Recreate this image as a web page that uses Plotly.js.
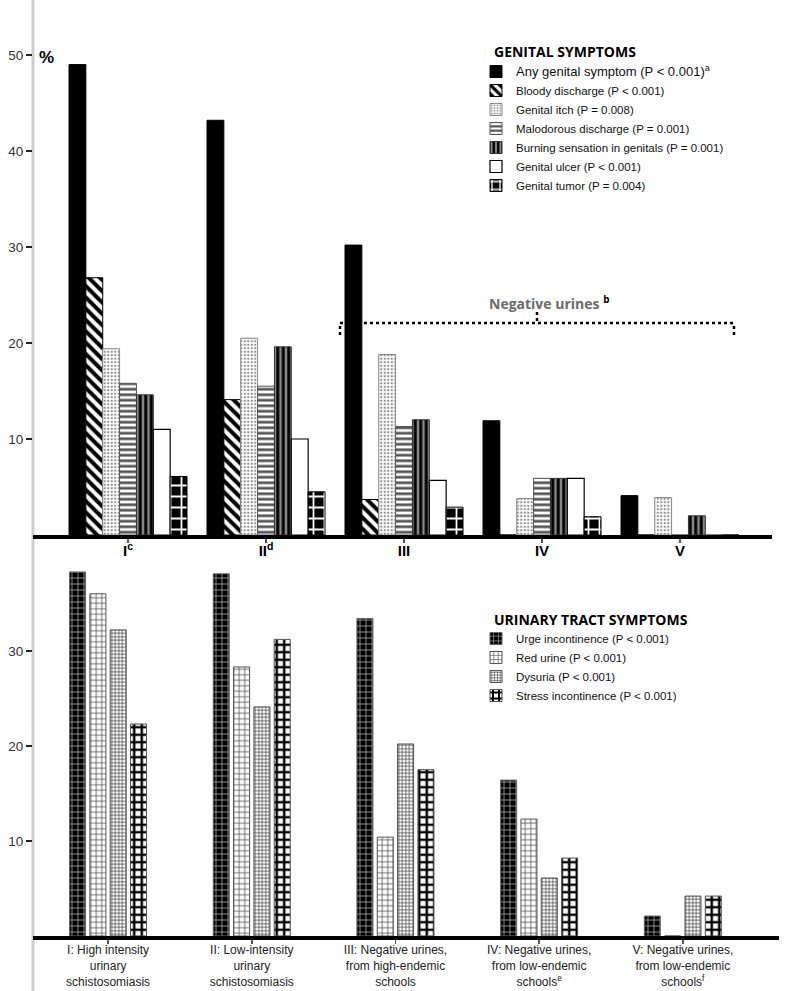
<!DOCTYPE html>
<html>
<head>
<meta charset="utf-8">
<script src="https://cdn.plot.ly/plotly-3.0.1.min.js"></script>
<style>
  html, body { margin: 0; padding: 0; background: #fff; }
  #chart { width: 787px; height: 991px; }
</style>
</head>
<body>
<div id="chart"></div>
<script>
// ---------------- DATA ----------------
const groupCodes = ['I', 'II', 'III', 'IV', 'V'];
const topTickLabels = ['I<sup>c</sup>', 'II<sup>d</sup>', 'III', 'IV', 'V'];
const bottomTickLabels = [
  'I: High intensity<br>urinary<br>schistosomiasis',
  'II: Low-intensity<br>urinary<br>schistosomiasis',
  'III: Negative urines,<br>from high-endemic<br>schools',
  'IV: Negative urines,<br>from low-endemic<br>schools<sup>e</sup>',
  'V: Negative urines,<br>from low-endemic<br>schools<sup>f</sup>'
];

const genitalNames = [
  '<span style="font-size:13px">Any genital symptom (P &lt; 0.001)<sup>a</sup></span>',
  'Bloody discharge (P &lt; 0.001)',
  'Genital itch (P = 0.008)',
  'Malodorous discharge (P = 0.001)',
  'Burning sensation in genitals (P = 0.001)',
  'Genital ulcer (P &lt; 0.001)',
  'Genital tumor (P = 0.004)'
];
const anyGenital      = [49.0, 43.2, 30.2, 11.9, 4.1];
const bloodyDischarge = [26.8, 14.1, 3.7, 0, 0];
const genitalItch     = [19.4, 20.5, 18.8, 3.8, 3.9];
const malodorous      = [15.8, 15.5, 11.3, 5.9, 0];
const burning         = [14.6, 19.6, 12.0, 5.9, 2.0];
const genitalUlcer    = [11.0, 10.0, 5.7, 5.9, 0];
const genitalTumor    = [6.1, 4.5, 2.9, 1.9, 0];

const urinaryNames = [
  'Urge incontinence (P &lt; 0.001)',
  'Red urine (P &lt; 0.001)',
  'Dysuria (P &lt; 0.001)',
  'Stress incontinence (P &lt; 0.001)'
];
const urgeIncontinence   = [38.3, 38.1, 33.4, 16.4, 2.1];
const redUrine           = [36.0, 28.3, 10.4, 12.3, 0];
const dysuria            = [32.2, 24.1, 20.2, 6.1, 4.2];
const stressIncontinence = [22.3, 31.2, 17.5, 8.2, 4.2];

const topYTicks = [10, 20, 30, 40, 50];
const bottomYTicks = [10, 20, 30];

// ---------------- STYLES ----------------
const W = 787, H = 991;
const PX = x => x / W;
const PY = y => 1 - y / H;
const FONT = 'Liberation Sans, Arial, sans-serif';

const genitalSeries = [anyGenital, bloodyDischarge, genitalItch, malodorous, burning, genitalUlcer, genitalTumor];
const genitalMarkers = [
  { color: '#000', line: { color: '#000', width: 1 } },
  { color: '#000', line: { color: '#000', width: 1 },
    pattern: { shape: '\\', fgcolor: '#000', bgcolor: '#fff', size: 8, solidity: 0.5 } },
  { color: '#fff', line: { color: '#8a8a8a', width: 1 },
    pattern: { shape: '.', fgcolor: '#8f8f8f', bgcolor: '#fff', size: 3.5, solidity: 0.35 } },
  { color: '#fff', line: { color: '#555', width: 1 },
    pattern: { shape: '-', fgcolor: '#555', bgcolor: '#fff', size: 5.5, solidity: 0.5 } },
  { color: '#000', line: { color: '#333', width: 1 },
    pattern: { shape: '|', fgcolor: '#000', bgcolor: '#8a8a8a', size: 5.5, solidity: 0.55 } },
  { color: '#fff', line: { color: '#000', width: 1.2 } },
  { color: '#000', line: { color: '#000', width: 1 },
    pattern: { shape: '+', fgcolor: '#fff', bgcolor: '#000', size: 11, solidity: 0.3 } }
];

const urinarySeries = [urgeIncontinence, redUrine, dysuria, stressIncontinence];
const urinaryMarkers = [
  { color: '#000', line: { color: '#666', width: 1 },
    pattern: { shape: '+', fgcolor: '#bdbdbd', bgcolor: '#000', size: 6, solidity: 0.22 } },
  { color: '#fff', line: { color: '#555', width: 1 },
    pattern: { shape: '+', fgcolor: '#444', bgcolor: '#fff', size: 5.5, solidity: 0.25 } },
  { color: '#fff', line: { color: '#555', width: 1 },
    pattern: { shape: '+', fgcolor: '#4a4a4a', bgcolor: '#fff', size: 3.5, solidity: 0.4 } },
  { color: '#000', line: { color: '#555', width: 1 },
    pattern: { shape: '+', fgcolor: '#000', bgcolor: '#fff', size: 7.5, solidity: 0.55 } }
];

// geometry of the two panels (pixels)
const topUnit = 138, topBarPx = 16.86, topGroupLeft = -59;
const botUnit = 143.5, botBarPx = 16, botPitch = 20.3, botGroupLeft = -38.5;

const traces = [];
genitalSeries.forEach((vals, i) => {
  traces.push({
    type: 'bar', name: genitalNames[i], x: groupCodes, y: vals,
    xaxis: 'x', yaxis: 'y', legend: 'legend',
    width: topBarPx / topUnit,
    offset: (topGroupLeft + topBarPx * i) / topUnit,
    marker: genitalMarkers[i], hoverinfo: 'skip'
  });
});
urinarySeries.forEach((vals, i) => {
  traces.push({
    type: 'bar', name: urinaryNames[i], x: groupCodes, y: vals,
    xaxis: 'x2', yaxis: 'y2', legend: 'legend2',
    width: botBarPx / botUnit,
    offset: (botGroupLeft + botPitch * i) / botUnit,
    marker: urinaryMarkers[i], hoverinfo: 'skip'
  });
});

const yTickCommon = {
  showgrid: false, zeroline: false, showline: false,
  ticks: 'outside', ticklen: 6, tickwidth: 1.5, tickcolor: '#222',
  tickfont: { family: FONT, size: 13.5, color: '#333' }, tickmode: 'array'
};
const xCommon = {
  type: 'category', showgrid: false, zeroline: false,
  showline: true, linecolor: '#000', linewidth: 4,
  ticks: 'outside', ticklen: 4, tickwidth: 1.5, tickcolor: '#555',
  tickmode: 'array', tickvals: groupCodes
};

const layout = {
  width: W, height: H,
  margin: { l: 0, r: 0, t: 0, b: 0, pad: 0 },
  paper_bgcolor: '#fff', plot_bgcolor: 'rgba(0,0,0,0)',
  barmode: 'group',
  showlegend: true,
  xaxis: Object.assign({}, xCommon, {
    domain: [PX(33), PX(772)], anchor: 'y',
    range: [-95 / topUnit, 4 + 92 / topUnit],
    ticktext: topTickLabels, ticklabelstandoff: -5,
    tickfont: { family: FONT, size: 15, color: '#000', weight: 'bold' }
  }),
  yaxis: Object.assign({}, yTickCommon, {
    domain: [PY(535), PY(7)], anchor: 'x', range: [0, 55], tickvals: topYTicks
  }),
  xaxis2: Object.assign({}, xCommon, {
    domain: [PX(33), PX(779)], anchor: 'y2',
    range: [-75 / botUnit, 4 + 96 / botUnit],
    ticktext: bottomTickLabels, ticklabelstandoff: -4,
    tickfont: { family: FONT, size: 12, color: '#222' }
  }),
  yaxis2: Object.assign({}, yTickCommon, {
    domain: [PY(936), PY(551)], anchor: 'x2', range: [0, 40.5], tickvals: bottomYTicks
  }),
  legend: {
    x: PX(476), xanchor: 'left', y: PY(57), yanchor: 'top',
    bgcolor: 'rgba(0,0,0,0)', borderwidth: 0, traceorder: 'normal',
    font: { family: FONT, size: 11.5, color: '#111' }, itemclick: false
  },
  legend2: {
    x: PX(476), xanchor: 'left', y: PY(624), yanchor: 'top',
    bgcolor: 'rgba(0,0,0,0)', borderwidth: 0, traceorder: 'normal',
    font: { family: FONT, size: 11.5, color: '#111' }, itemclick: false
  },
  annotations: [
    { xref: 'paper', yref: 'paper', x: PX(37), y: PY(57), xanchor: 'left', yanchor: 'middle',
      text: '<b>%</b>', showarrow: false, font: { family: FONT, size: 17, color: '#000' } },
    { xref: 'paper', yref: 'paper', x: PX(492), y: PY(51), xanchor: 'left', yanchor: 'middle',
      text: '<b>GENITAL SYMPTOMS</b>', showarrow: false, font: { family: 'Open Sans, sans-serif', size: 14, color: '#000' } },
    { xref: 'paper', yref: 'paper', x: PX(492), y: PY(619), xanchor: 'left', yanchor: 'middle',
      text: '<b>URINARY TRACT SYMPTOMS</b>', showarrow: false, font: { family: 'Open Sans, sans-serif', size: 14, color: '#000' } },
    { xref: 'paper', yref: 'paper', x: PX(487), y: PY(303), xanchor: 'left', yanchor: 'middle',
      text: '<b>Negative urines</b> <sup><b><span style="color:#000">b</span></b></sup>', showarrow: false,
      font: { family: 'Open Sans, sans-serif', size: 14, color: '#6b6b6b' } }
  ],
  shapes: [
    { type: 'line', xref: 'paper', yref: 'paper', x0: PX(33), x1: PX(33), y0: 0, y1: 1,
      line: { color: '#cdcdcd', width: 3 }, layer: 'below' },
    { type: 'line', xref: 'paper', yref: 'paper', x0: PX(340), x1: PX(734), y0: PY(323), y1: PY(323),
      line: { color: '#000', width: 2.5, dash: 'dot' } },
    { type: 'line', xref: 'paper', yref: 'paper', x0: PX(340), x1: PX(340), y0: PY(326), y1: PY(335),
      line: { color: '#000', width: 2.5, dash: 'dot' } },
    { type: 'line', xref: 'paper', yref: 'paper', x0: PX(734), x1: PX(734), y0: PY(326), y1: PY(335),
      line: { color: '#000', width: 2.5, dash: 'dot' } },
    { type: 'line', xref: 'paper', yref: 'paper', x0: PX(537), x1: PX(537), y0: PY(312), y1: PY(321),
      line: { color: '#000', width: 2.5, dash: 'dot' } }
  ]
};

Plotly.newPlot('chart', traces, layout, { staticPlot: true, displayModeBar: false });
</script>
</body>
</html>
